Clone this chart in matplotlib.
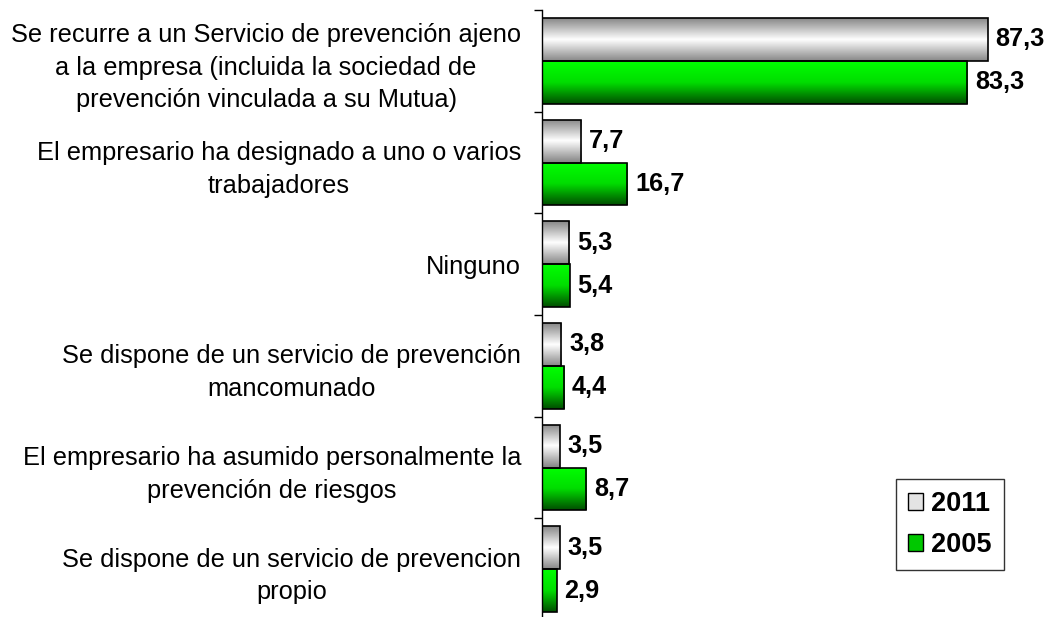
import numpy as np
import matplotlib
matplotlib.use("Agg")
import matplotlib.pyplot as plt
from matplotlib.patches import Patch
from matplotlib.colors import LinearSegmentedColormap

plt.rcParams['font.family'] = ['Liberation Sans', 'DejaVu Sans']

categories = [
    "Se recurre a un Servicio de prevención ajeno\na la empresa (incluida la sociedad de\nprevención vinculada a su Mutua)",
    "El empresario ha designado a uno o varios\ntrabajadores",
    "Ninguno",
    "Se dispone de un servicio de prevención\nmancomunado",
    "El empresario ha asumido personalmente la\nprevención de riesgos",
    "Se dispone de un servicio de prevencion\npropio",
]
vals_2011 = [87.3, 7.7, 5.3, 3.8, 3.5, 3.5]
vals_2005 = [83.3, 16.7, 5.4, 4.4, 8.7, 2.9]
series = ["2011", "2005"]

gray_cmap = LinearSegmentedColormap.from_list("g", ["#888888", "#ffffff", "#888888"])
green_cmap = LinearSegmentedColormap.from_list("gr", ["#00ff00", "#00dd00", "#004f00"])

fig = plt.figure(figsize=(10.46, 6.17), dpi=100)
ax = fig.add_axes([542 / 1046, -3 / 617, 485 / 1046, 610 / 617])

y = np.arange(len(categories))
h = 0.42
bars1 = ax.barh(y - h / 2, vals_2011, height=h, facecolor='none', edgecolor='black', linewidth=1.2, zorder=3)
bars2 = ax.barh(y + h / 2, vals_2005, height=h, facecolor='none', edgecolor='black', linewidth=1.2, zorder=3)

grad = np.linspace(0, 1, 64).reshape(-1, 1)
for bars, cmap in [(bars1, gray_cmap), (bars2, green_cmap)]:
    for b in bars:
        x0, y0 = b.get_x(), b.get_y()
        w, hh = b.get_width(), b.get_height()
        im = ax.imshow(grad, cmap=cmap, aspect='auto', origin='upper',
                       extent=[x0, x0 + w, y0 + hh, y0], zorder=2)
        im.set_clip_path(b)

for bars, vals in [(bars1, vals_2011), (bars2, vals_2005)]:
    for b, v in zip(bars, vals):
        ax.text(v + 1.5, b.get_y() + b.get_height() / 2, f"{v:.1f}".replace('.', ','),
                va='center', ha='left', fontsize=13.5 * 1.35, fontweight='bold')

ax.set_xlim(0, 95)
ax.set_ylim(len(categories) - 0.5, -0.5)
ax.set_yticks(y)
ax.set_yticklabels(categories, fontsize=18.3, ha='right', multialignment='center', linespacing=1.45)
ax.tick_params(axis='y', which='major', length=0, pad=15)
ax.set_yticks(np.arange(-0.5, len(categories)), minor=True)
ax.tick_params(axis='y', which='minor', length=6, width=1)
ax.set_xticks([])
for s in ['top', 'right', 'bottom']:
    ax.spines[s].set_visible(False)
ax.spines['left'].set_linewidth(1)

handles = [Patch(facecolor='#e4e4e4', edgecolor='black'), Patch(facecolor='#00c800', edgecolor='black')]
leg = fig.legend(handles, series, loc='upper left', bbox_to_anchor=(896 / 1046, 1 - 479 / 617),
                 prop={'weight': 'bold', 'size': 19.5}, frameon=True, fancybox=False,
                 edgecolor='black', handlelength=0.55, handleheight=0.55, handletextpad=0.3,
                 borderpad=0.45, labelspacing=0.55, borderaxespad=0)
leg.get_frame().set_linewidth(1)

fig.savefig("out.png", dpi=100)
